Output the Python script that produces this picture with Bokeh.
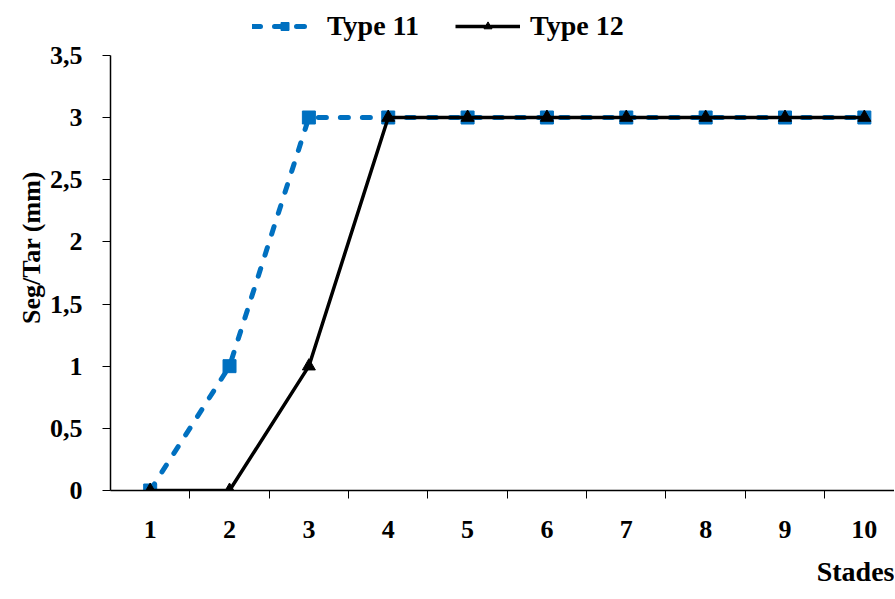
from bokeh.plotting import figure
from bokeh.models import Range1d, FixedTicker, Legend, LegendItem, Title
from bokeh.embed import file_html
from bokeh.resources import INLINE

stades = [1, 2, 3, 4, 5, 6, 7, 8, 9, 10]
type11 = [0, 1, 3, 3, 3, 3, 3, 3, 3, 3]
type12 = [0, 0, 1, 3, 3, 3, 3, 3, 3, 3]
y_ticks = [0, 0.5, 1, 1.5, 2, 2.5, 3, 3.5]
y_labels = ["0", "0,5", "1", "1,5", "2", "2,5", "3", "3,5"]

FONT = "Liberation Serif"

p = figure(width=894, height=599, output_backend="svg", toolbar_location=None,
           x_range=Range1d(0.5, 10.38), y_range=Range1d(0, 3.909),
           min_border_left=110, min_border_right=0, min_border_top=4, min_border_bottom=109)
p.outline_line_color = None
p.xgrid.visible = False
p.ygrid.visible = False

l11 = p.line(stades, type11, line_color="#0070C0", line_width=5, line_dash="8 14", line_cap="round")
m11 = p.scatter(stades, type11, marker="square", size=13, fill_color="#0070C0", line_color="#0070C0")
l12 = p.line(stades, type12, line_color="black", line_width=3.5)
m12 = p.scatter(stades, type12, marker="triangle", size=13, fill_color="black", line_color="black")

xt = FixedTicker(ticks=stades, minor_ticks=[s + 0.5 for s in stades])
p.xaxis.ticker = xt
p.xaxis.major_tick_line_color = None
p.xaxis.minor_tick_in = 0
p.xaxis.minor_tick_out = 8
p.xaxis.minor_tick_line_color = "black"
p.xaxis.axis_line_width = 1.5
p.xaxis.major_label_standoff = 22
p.xaxis.major_label_text_font = FONT
p.xaxis.major_label_text_font_style = "bold"
p.xaxis.major_label_text_font_size = "26px"
p.xaxis.major_label_text_color = "black"

p.yaxis.ticker = FixedTicker(ticks=y_ticks)
p.yaxis.bounds = (0, 3.5)
p.yaxis.major_label_overrides = {t: l for t, l in zip(y_ticks, y_labels)}
p.yaxis.minor_tick_line_color = None
p.yaxis.major_tick_in = 0
p.yaxis.major_tick_out = 8
p.yaxis.axis_line_width = 1.5
p.yaxis.major_label_standoff = 20
p.yaxis.major_label_text_font = FONT
p.yaxis.major_label_text_font_style = "bold"
p.yaxis.major_label_text_font_size = "26px"
p.yaxis.major_label_text_color = "black"
p.yaxis.axis_label = "Seg/Tar (mm)"
p.yaxis.axis_label_text_font = FONT
p.yaxis.axis_label_text_font_style = "bold"
p.yaxis.axis_label_text_font_size = "26px"
p.yaxis.axis_label_text_color = "black"
p.yaxis.axis_label_standoff = 1

t = Title(text="Stades", align="right", text_font=FONT, text_font_style="bold",
          text_font_size="28px", text_color="black", offset=0, standoff=26)
p.add_layout(t, "below")

legend = Legend(items=[LegendItem(label="Type 11", renderers=[l11, m11]),
                       LegendItem(label="Type 12", renderers=[l12, m12])],
                orientation="horizontal", location=(142, 448),
                label_text_font=FONT, label_text_font_style="bold",
                label_text_font_size="28px", label_text_color="black",
                glyph_width=65, label_standoff=10, spacing=36, padding=0,
                border_line_color=None, background_fill_alpha=0, margin=0)
p.add_layout(legend)

open("out.html", "w").write(file_html(p, INLINE))
